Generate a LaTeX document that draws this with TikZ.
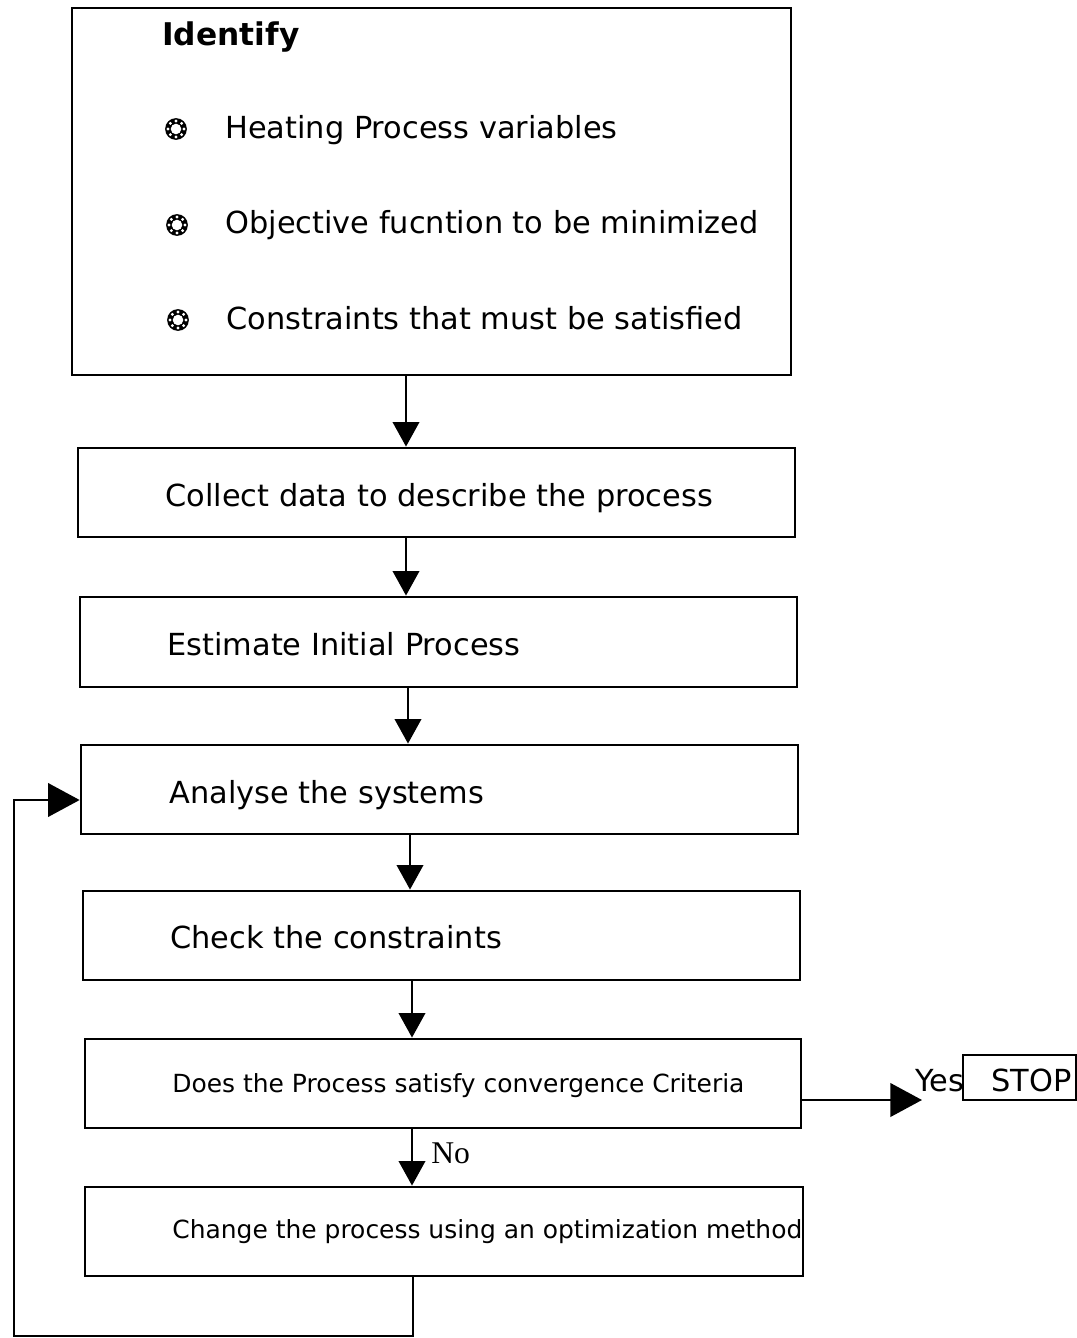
\documentclass[tikz,border=0pt]{standalone}
\usepackage{fontspec}
\setmainfont{DejaVu Sans}
\newfontfamily\serifont{Liberation Serif}
\usetikzlibrary{arrows.meta}
\begin{document}
\begin{tikzpicture}[x=0.02cm,y=-0.02cm,
  box/.style={draw, line width=1.6pt, rectangle, inner sep=0pt},
  lbl/.style={anchor=base west, inner sep=0pt, font=\fontsize{17.3}{20}\selectfont},
  slbl/.style={anchor=base west, inner sep=0pt, font=\fontsize{14.2}{17}\selectfont},
  arr/.style={line width=1.6pt, -{Triangle[length=14pt,width=15pt]}},
  harr/.style={line width=1.6pt, -{Triangle[length=18pt,width=19pt]}},
  bul/.pic={\fill (0,0) circle (6.2pt); \fill[white] (0,0) circle (3pt);
    \foreach \a in {0,45,...,315} \fill[white] (\a:8) circle (0.9pt);},
]
\useasboundingbox (0,0) rectangle (1077,1338);
% boxes
\node[box, minimum width=14.38cm, minimum height=7.34cm] (b1) at (431.5,191.5) {};
\node[box, minimum width=14.34cm, minimum height=1.78cm] (b2) at (436.5,492.5) {};
\node[box, minimum width=14.34cm, minimum height=1.80cm] (b3) at (438.5,642) {};
\node[box, minimum width=14.34cm, minimum height=1.78cm] (b4) at (439.5,789.5) {};
\node[box, minimum width=14.34cm, minimum height=1.78cm] (b5) at (441.5,935.5) {};
\node[box, minimum width=14.32cm, minimum height=1.78cm] (b6) at (443,1083.5) {};
\node[box, minimum width=14.36cm, minimum height=1.78cm] (b7) at (444,1231.5) {};
\node[box, minimum width=2.26cm, minimum height=0.90cm] (stop) at (1019.5,1077.5) {};
% texts
\node[anchor=base west, inner sep=0pt, font=\bfseries\fontsize{17.8}{20}\selectfont] (t0) at (162,46) {Identify};
\node[lbl] (t1) at (225,139) {Heating Process variables};
\node[lbl] (t2) at (225,234) {Objective fucntion to be minimized};
\node[lbl] (t3) at (226,329) {Constraints that must be satisfied};
\pic at (176,129) {bul};
\pic at (177,225) {bul};
\pic at (178,320) {bul};
\node[lbl] (c2) at (165,506) {Collect data to describe the process};
\node[lbl] (c3) at (167,655) {Estimate Initial Process};
\node[lbl] (c4) at (169,803) {Analyse the systems};
\node[lbl] (c5) at (170,948) {Check the constraints};
\node[slbl] (c6) at (172,1092) {Does the Process satisfy convergence Criteria};
\node[slbl] (c7) at (172,1238) {Change the process using an optimization method};
\node[lbl] (stopt) at (991,1091) {STOP};
\node[lbl] (yes) at (915,1091) {Yes};
\node[anchor=base west, inner sep=0pt, font=\serifont\fontsize{18}{20}\selectfont] (no) at (431,1163) {No};
% connectors
\draw[arr] (b1.south -| 406,0) -- (b2.north -| 406,0);
\draw[arr] (b2.south -| 406,0) -- (b3.north -| 406,0);
\draw[arr] (b3.south -| 408,0) -- (b4.north -| 408,0);
\draw[arr] (b4.south -| 410,0) -- (b5.north -| 410,0);
\draw[arr] (b5.south -| 412,0) -- (b6.north -| 412,0);
\draw[arr] (b6.south -| 412,0) -- (b7.north -| 412,0);
\coordinate (yestip) at (922,1100);
\draw[harr] (b6.east |- 0,1100) -- (yestip);
\draw[harr] (b7.south -| 413,0) -- (413,1336) -| (14,800) -- (b4.west |- 0,800);
\end{tikzpicture}
\end{document}
